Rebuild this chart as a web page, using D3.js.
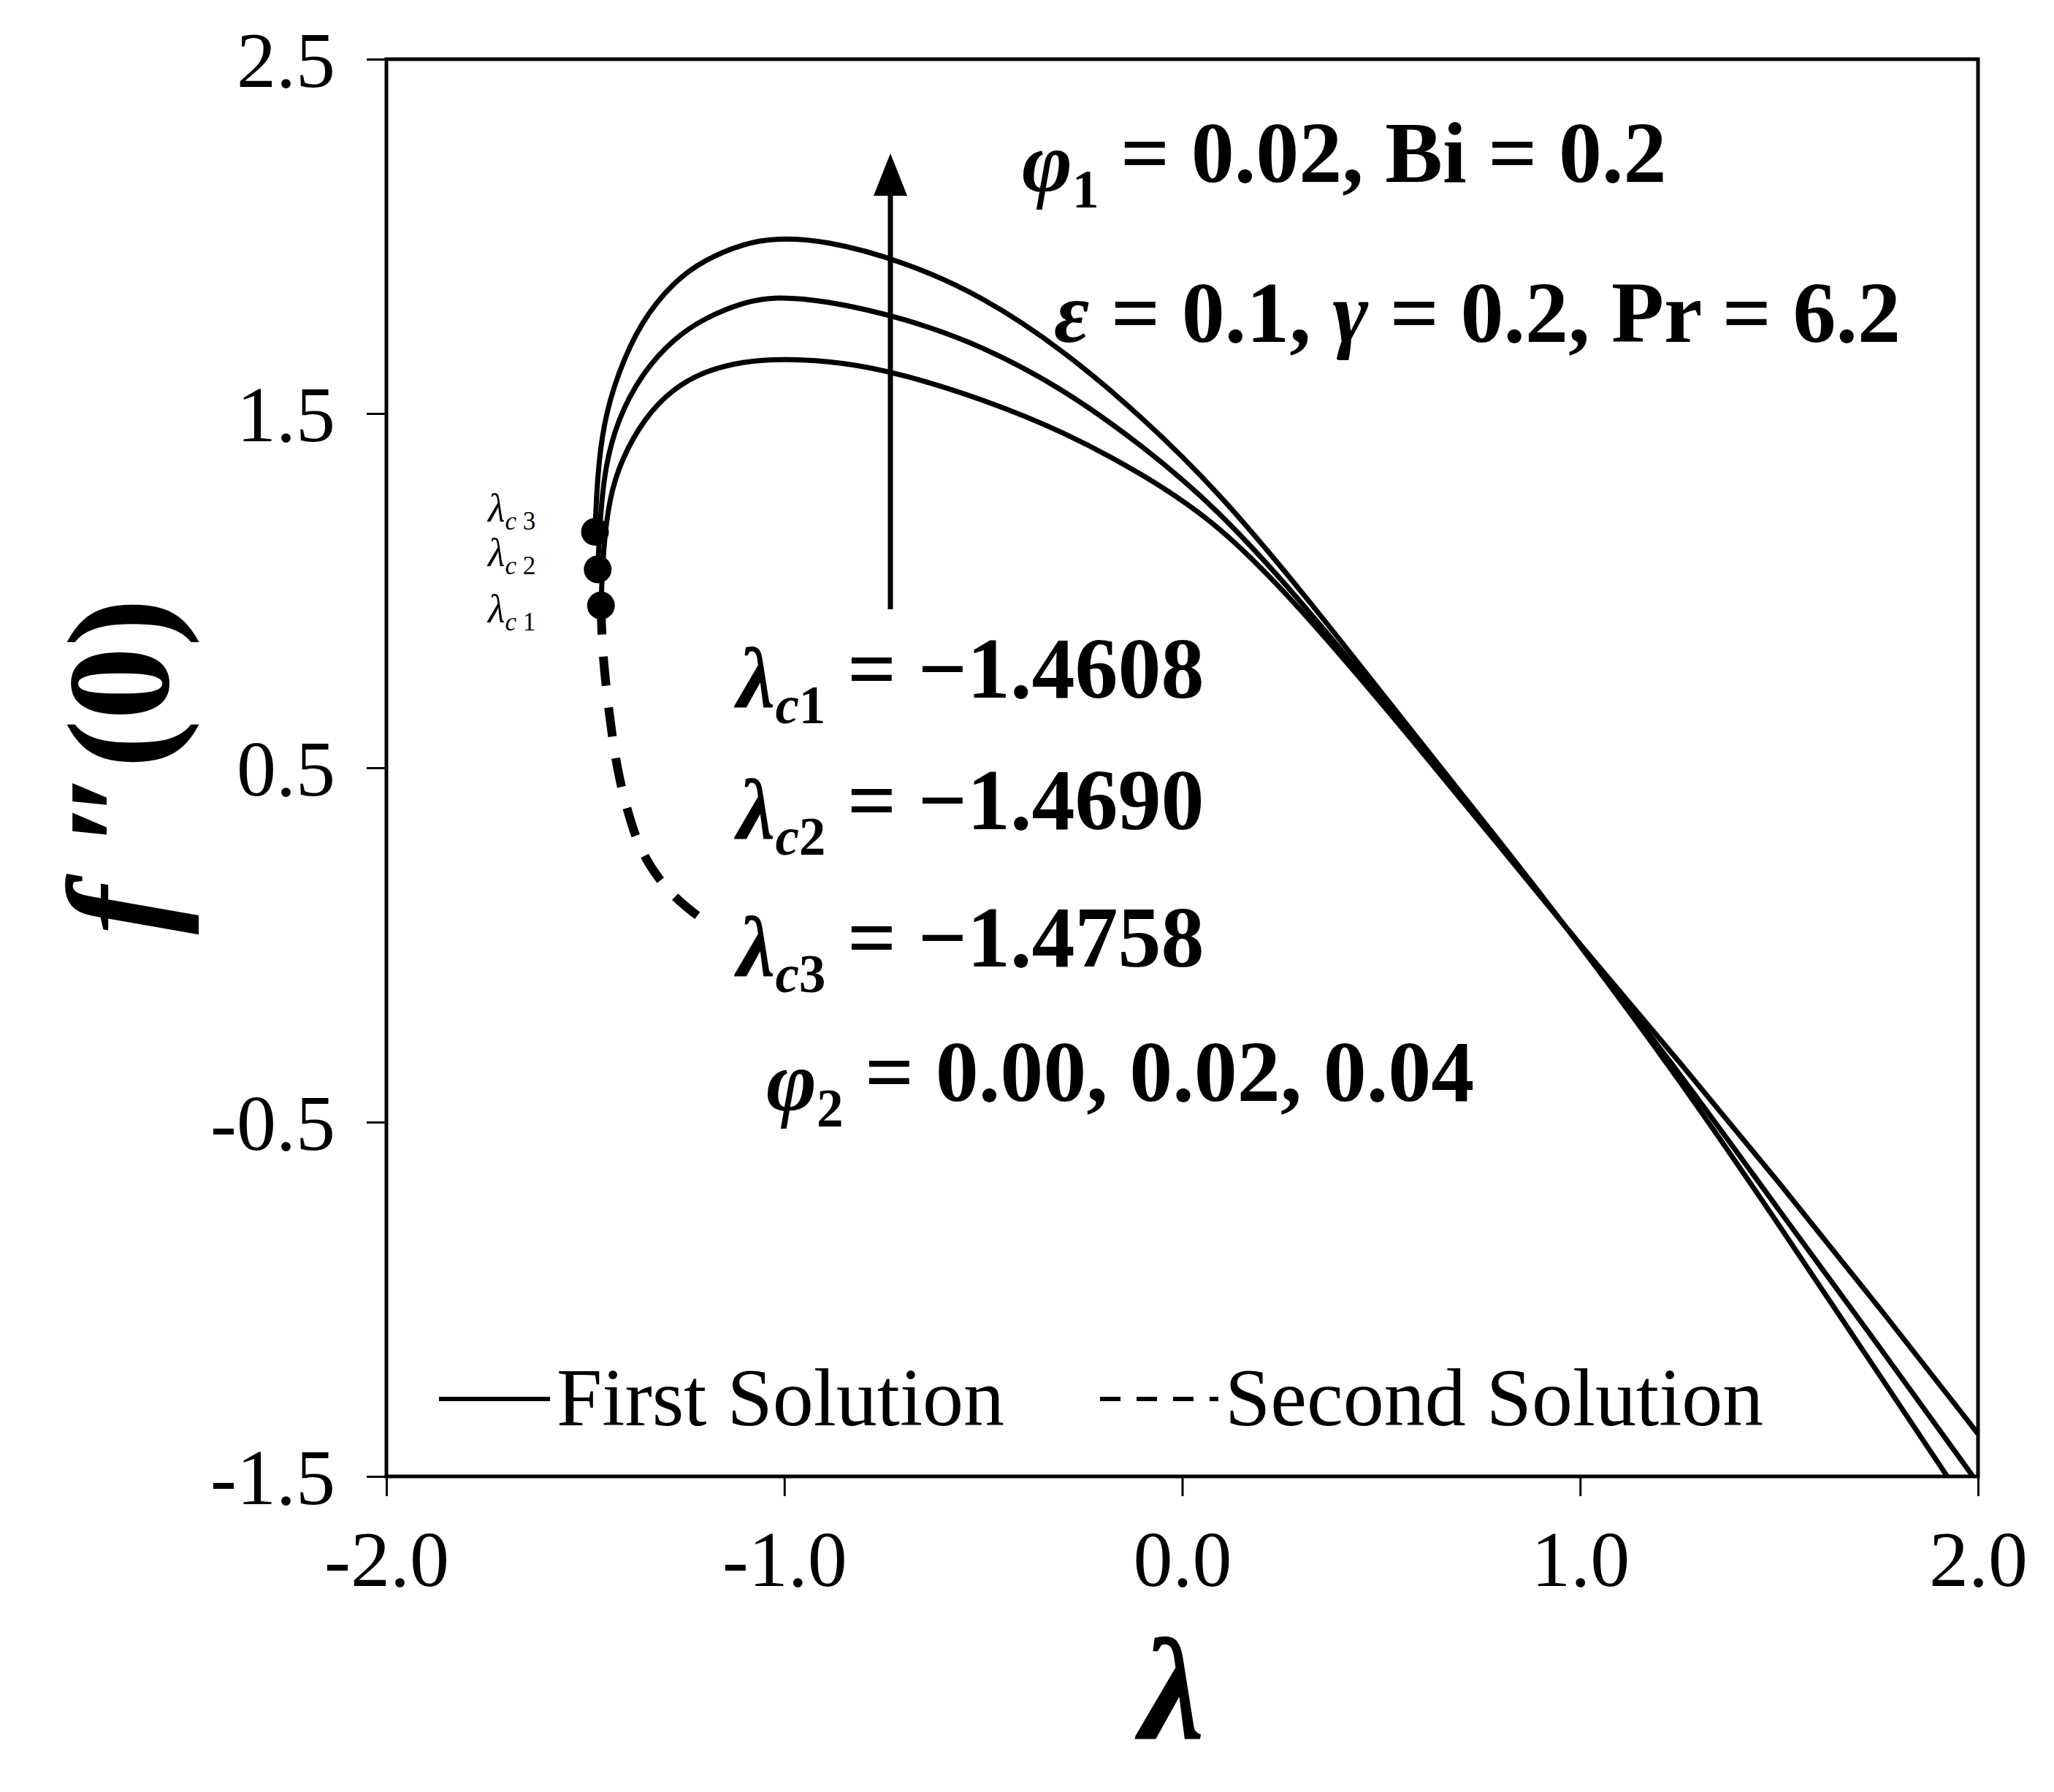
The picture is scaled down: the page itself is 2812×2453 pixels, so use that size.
<!DOCTYPE html>
<html><head><meta charset="utf-8">
<script src="https://cdn.jsdelivr.net/npm/d3@7"></script>
<style>body{margin:0;background:#fff}</style>
</head><body>
<svg id="c" width="2812" height="2453"></svg>
<script>
const xTicks=[-2.0,-1.0,0.0,1.0,2.0];
const yTicks=[-1.5,-0.5,0.5,1.5,2.5];
// first solutions (phi2 = 0.00, 0.02, 0.04)
const first00=[[-1.4608,0.958],[-1.455,1.12],[-1.44,1.26],[-1.41,1.37],[-1.35,1.49],[-1.28,1.57],[-1.2,1.62],[-1.1,1.648],[-1.0,1.655],[-0.85,1.645],[-0.7,1.61],[-0.5,1.54],[-0.3,1.45],[-0.1,1.33],[0.09,1.19],[0.3,0.95],[0.6,0.55],[0.8,0.275],[1.0,0.0],[1.25,-0.33],[1.5,-0.67],[1.75,-1.02],[2.0,-1.38]];
const first02=[[-1.469,1.06],[-1.462,1.22],[-1.45,1.35],[-1.42,1.48],[-1.36,1.61],[-1.28,1.71],[-1.2,1.77],[-1.1,1.815],[-1.025,1.83],[-0.9,1.82],[-0.7,1.77],[-0.5,1.69],[-0.3,1.57],[-0.1,1.41],[0.09,1.23],[0.3,0.97],[0.6,0.56],[0.8,0.285],[1.0,0.0],[1.25,-0.36],[1.5,-0.75],[1.75,-1.13],[2.0,-1.52]];
const first04=[[-1.4758,1.166],[-1.47,1.32],[-1.455,1.47],[-1.42,1.61],[-1.36,1.76],[-1.28,1.87],[-1.2,1.935],[-1.1,1.98],[-1.025,1.995],[-0.9,1.99],[-0.7,1.93],[-0.5,1.83],[-0.3,1.68],[-0.1,1.49],[0.09,1.28],[0.3,1.0],[0.6,0.57],[0.8,0.29],[1.0,0.0],[1.25,-0.38],[1.5,-0.79],[1.75,-1.21],[2.0,-1.63]];
const second=[[-1.4608,0.958],[-1.457,0.82],[-1.44,0.65],[-1.42,0.49],[-1.39,0.36],[-1.36,0.26],[-1.3,0.16],[-1.24,0.1],[-1.19,0.06]];
const critPts=[[-1.4608,0.958],[-1.469,1.06],[-1.4758,1.166]];

const svg=d3.select("#c");
const L=529,R=2708,T=81,B=2021;
const x=d3.scaleLinear().domain([-2,2]).range([L,R]);
const y=d3.scaleLinear().domain([-1.5,2.5]).range([B,T]);
const font="'Liberation Serif','Times New Roman',serif";
const fmt=d=>d3.format(".1f")(d).replace("−","-");

svg.append("g").attr("transform",`translate(0,${B})`)
 .call(d3.axisBottom(x).tickValues(xTicks).tickSize(27).tickFormat(fmt))
 .call(g=>{g.select(".domain").remove();g.selectAll("line").attr("stroke","#000").attr("stroke-width",3);
  g.selectAll("text").attr("font-family",font).attr("font-size",108).attr("fill","#000").attr("dy",0).attr("y",150);});
svg.append("g").attr("transform",`translate(${L},0)`)
 .call(d3.axisLeft(y).tickValues(yTicks).tickSize(27).tickFormat(fmt))
 .call(g=>{g.select(".domain").remove();g.selectAll("line").attr("stroke","#000").attr("stroke-width",3);
  g.selectAll("text").attr("font-family",font).attr("font-size",108).attr("fill","#000").attr("x",-70).attr("dy","0.35em");});
svg.append("rect").attr("x",L).attr("y",T).attr("width",R-L).attr("height",B-T).attr("fill","none").attr("stroke","#000").attr("stroke-width",5);

const line=d3.line().x(d=>x(d[0])).y(d=>y(d[1])).curve(d3.curveBasis);
svg.append("clipPath").attr("id","cp").append("rect").attr("x",L).attr("y",T).attr("width",R-L).attr("height",B-T);
const pg=svg.append("g").attr("clip-path","url(#cp)");
[first00,first02,first04].forEach(s=>pg.append("path").attr("d",line(s)).attr("fill","none").attr("stroke","#000").attr("stroke-width",7));
pg.append("path").attr("d",line(second)).attr("fill","none").attr("stroke","#000").attr("stroke-width",12).attr("stroke-dasharray","40 30");
critPts.forEach(p=>svg.append("circle").attr("cx",x(p[0])).attr("cy",y(p[1])).attr("r",19).attr("fill","#000"));

// arrow
svg.append("line").attr("x1",1219).attr("y1",834).attr("x2",1219).attr("y2",260).attr("stroke","#000").attr("stroke-width",7);
svg.append("path").attr("d","M1219,210 L1196,268 L1242,268 Z").attr("fill","#000");

function txt(xx,yy,size,html,opts={}){
  const t=svg.append("text").attr("x",xx).attr("y",yy).attr("font-family",font).attr("font-size",size)
   .attr("font-weight",opts.w||"bold").attr("fill","#000");
  if(opts.anchor)t.attr("text-anchor",opts.anchor);
  t.html(html);return t;
}
txt(1399,262,118,`<tspan font-style="italic">φ</tspan><tspan font-size="0.62em" dy="0.3em">1</tspan><tspan dy="-0.3em"> = 0.02, Bi = 0.2</tspan>`);
txt(1443,468,118,`<tspan font-style="italic">ε</tspan> = 0.1, <tspan font-style="italic">γ</tspan> = 0.2, Pr = 6.2`);
const lc=[["1","−1.4608",968],["2","−1.4690",1148],["3","−1.4758",1336]];
lc.forEach(d=>txt(1009,d[2],118,`<tspan font-style="italic">λ</tspan><tspan font-size="0.62em" dy="0.3em"><tspan font-style="italic">c</tspan>${d[0]}</tspan><tspan dy="-0.3em"> = ${d[1]}</tspan>`));
txt(1049,1520,118,`<tspan font-style="italic">φ</tspan><tspan font-size="0.62em" dy="0.3em">2</tspan><tspan dy="-0.3em"> = 0.00, 0.02, 0.04</tspan>`);
[["3",714],["2",775],["1",852]].forEach(d=>txt(668,d[1],54,`<tspan font-style="italic">λ</tspan><tspan font-size="0.65em" dy="0.3em"><tspan font-style="italic">c</tspan> ${d[0]}</tspan>`,{w:"normal"}));

// legend
svg.append("line").attr("x1",601).attr("x2",753).attr("y1",1915).attr("y2",1915).attr("stroke","#000").attr("stroke-width",6);
txt(762,1951,112,"First Solution",{w:"normal"});
svg.append("line").attr("x1",1506).attr("x2",1668).attr("y1",1915).attr("y2",1915).attr("stroke","#000").attr("stroke-width",6).attr("stroke-dasharray","28 22");
txt(1677,1951,112,"Second Solution",{w:"normal"});

// axis titles
txt(1605,2380,200,`<tspan font-style="italic">λ</tspan>`,{anchor:"middle"});
svg.append("text").attr("transform","translate(230,1049) rotate(-90)").attr("text-anchor","middle")
 .attr("font-family",font).attr("font-size",200).attr("font-weight","bold").attr("fill","#000")
 .html(`<tspan font-style="italic">f</tspan><tspan font-style="italic"> ″</tspan>(0)`);
</script>
</body></html>
